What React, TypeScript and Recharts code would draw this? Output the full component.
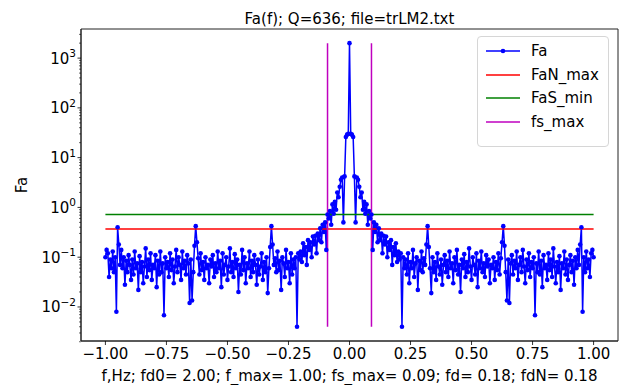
import React from "react";
import { LineChart, Line, XAxis, YAxis, ReferenceArea } from "recharts";

// Frequency resolution of the table (Hz) and the spectrum values.
const STEP = 0.005;
const faCenter = 2000;
// Fa for |f| = 0.005, 0.010, ... 1.000 (spectrum is symmetric about f = 0)
const faHalf = [
  30, 29, 26, 4.2, 0.5, 4.0, 3.6, 2.6, 1.6, 2.0,
  0.9, 1.3, 0.75, 1.15, 0.45, 0.85, 0.6, 0.72, 0.14, 0.5,
  0.32, 0.45, 0.2, 0.38, 0.22, 0.3, 0.12, 0.27, 0.18, 0.26,
  0.1, 0.2, 0.14, 0.22, 0.07, 0.16, 0.11, 0.19, 0.08, 0.13,
  0.09, 0.12, 0.004, 0.1, 0.06,
  0.09, 0.045, 0.12, 0.03, 0.08, 0.06, 0.14, 0.04, 0.075, 0.1,
  0.022, 0.085, 0.055, 0.13, 0.05, 0.095, 0.07,
  0.18, 0.42, 0.16,
  0.06, 0.019, 0.1, 0.05, 0.08, 0.035, 0.12, 0.065, 0.045, 0.09,
  0.028, 0.07, 0.11, 0.05, 0.085, 0.04, 0.13, 0.06, 0.075, 0.03,
  0.1, 0.055, 0.14, 0.045, 0.07, 0.02, 0.09, 0.06, 0.115, 0.04,
  0.08, 0.05, 0.15, 0.065, 0.035, 0.1, 0.07, 0.045, 0.12, 0.025,
  0.085, 0.06, 0.13, 0.05, 0.075, 0.04, 0.11, 0.065, 0.09, 0.03,
  0.07, 0.06, 0.1, 0.035, 0.08, 0.055, 0.12, 0.045, 0.095,
  0.2, 0.42, 0.17,
  0.05, 0.0135, 0.09, 0.012, 0.075, 0.11, 0.045, 0.085, 0.06, 0.13,
  0.035, 0.07, 0.1, 0.05, 0.14, 0.065, 0.03, 0.09, 0.055, 0.12,
  0.04, 0.08, 0.06, 0.1, 0.0068, 0.075, 0.05, 0.13, 0.045, 0.085,
  0.025, 0.11, 0.06, 0.07, 0.035, 0.12, 0.055, 0.09, 0.04, 0.15,
  0.065, 0.03, 0.08, 0.05, 0.105, 0.022, 0.075, 0.06, 0.13, 0.045,
  0.09, 0.035, 0.07, 0.11, 0.05, 0.085, 0.028, 0.1, 0.06, 0.14,
  0.07,
  0.18, 0.4, 0.008,
  0.1, 0.05, 0.13, 0.06, 0.09, 0.04, 0.12, 0.14, 0.1,
];

const faNMax = 0.37;
const faSMin = 0.72;
const fsMax = 0.09;
const fRange = [-1, 1];
const faRange = [0.004, 2000];

const xDomain = [-1.1, 1.1];
const yDomain = [0.00207, 3846];
const xTicks = [-1, -0.75, -0.5, -0.25, 0, 0.25, 0.5, 0.75, 1];
const yMajor = [0.01, 0.1, 1, 10, 100, 1000];
const yMinor = [
  0.002, 0.003, 0.004, 0.005, 0.006, 0.007, 0.008, 0.009,
  0.02, 0.03, 0.04, 0.05, 0.06, 0.07, 0.08, 0.09,
  0.2, 0.3, 0.4, 0.5, 0.6, 0.7, 0.8, 0.9,
  2, 3, 4, 5, 6, 7, 8, 9,
  20, 30, 40, 50, 60, 70, 80, 90,
  200, 300, 400, 500, 600, 700, 800, 900,
  2000, 3000,
];

const titleText = "Fa(f); Q=636; file=trLM2.txt";
const xLabelText = "f,Hz; fd0= 2.00; f_max= 1.00; fs_max= 0.09; fd= 0.18; fdN= 0.18";
const yLabelText = "Fa";

const faData = [
  ...faHalf.map((v, i) => ({ f: -(i + 1) * STEP, y: v })).reverse(),
  { f: 0, y: faCenter },
  ...faHalf.map((v, i) => ({ f: (i + 1) * STEP, y: v })),
];
const redData = fRange.map((f) => ({ f, y: faNMax }));
const greenData = fRange.map((f) => ({ f, y: faSMin }));
const magLeft = faRange.map((y) => ({ f: -fsMax, y }));
const magRight = faRange.map((y) => ({ f: fsMax, y }));

const FONT = "'DejaVu Sans', sans-serif";

const fmtX = (v: number) => v.toFixed(2).replace("-", "\u2212");

const YTick = (props: any) => {
  const { x, y, payload } = props;
  const v = payload.value as number;
  const e = Math.round(Math.log10(v));
  const major = Math.abs(v - Math.pow(10, e)) < 1e-9 * v + 1e-12;
  return (
    <g>
      <line x1={x} x2={x - (major ? 3.5 : 2)} y1={y} y2={y} stroke="#000" strokeWidth={major ? 0.8 : 0.6} />
      {major && (
        <text x={x - 5} y={y} textAnchor="end" fontSize={15} fontFamily={FONT} fill="#000">
          <tspan dy="0.36em">10</tspan>
          <tspan dy="-0.62em" fontSize={10.5}>{e < 0 ? "\u2212" + -e : String(e)}</tspan>
        </text>
      )}
    </g>
  );
};

const legendItems = [
  { name: "Fa", color: "#0000ff", dot: true },
  { name: "FaN_max", color: "#ff0000", dot: false },
  { name: "FaS_min", color: "#008000", dot: false },
  { name: "fs_max", color: "#bf00bf", dot: false },
];

export default function App() {
  return (
    <div style={{ position: "absolute", left: 0, top: 0, width: 620, height: 385, fontFamily: FONT, background: "#fff" }}>
      <LineChart width={620} height={385} margin={{ top: 29, right: 2, left: 0, bottom: 0 }}>
        <XAxis
          dataKey="f"
          type="number"
          domain={xDomain}
          ticks={xTicks}
          interval={0}
          tickFormatter={fmtX}
          allowDataOverflow
          height={44}
          tickSize={4}
          tickMargin={3}
          stroke="#000"
          axisLine={{ stroke: "#222", strokeWidth: 1 }}
          tickLine={{ stroke: "#000", strokeWidth: 0.8 }}
          tick={{ fontSize: 15, fontFamily: FONT, fill: "#000" }}
        />
        <YAxis
          type="number"
          scale="log"
          domain={yDomain}
          allowDataOverflow
          ticks={[...yMajor, ...yMinor]}
          interval={0}
          width={81}
          tickSize={0}
          tickMargin={0}
          tickLine={false}
          axisLine={{ stroke: "#222", strokeWidth: 1 }}
          tick={<YTick />}
        />
        <Line
          data={faData}
          dataKey="y"
          stroke="#0000ff"
          strokeWidth={1.5}
          dot={{ r: 2.3, fill: "#0000ff", stroke: "#0000ff", strokeWidth: 0 }}
          activeDot={false}
          isAnimationActive={false}
        />
        <Line data={redData} dataKey="y" stroke="#ff0000" strokeWidth={1.5} dot={false} activeDot={false} isAnimationActive={false} />
        <Line data={greenData} dataKey="y" stroke="#008000" strokeWidth={1.5} dot={false} activeDot={false} isAnimationActive={false} />
        <Line data={magLeft} dataKey="y" stroke="#bf00bf" strokeWidth={1.5} dot={false} activeDot={false} isAnimationActive={false} />
        <Line data={magRight} dataKey="y" stroke="#bf00bf" strokeWidth={1.5} dot={false} activeDot={false} isAnimationActive={false} />
        <ReferenceArea
          x1={xDomain[0]}
          x2={xDomain[1]}
          y1={yDomain[0]}
          y2={yDomain[1]}
          fill="none"
          fillOpacity={0}
          stroke="#222"
          strokeWidth={1}
          ifOverflow="visible"
        />
      </LineChart>

      <div style={{ position: "absolute", left: 81, width: 537, top: 9, textAlign: "center", fontSize: 15, lineHeight: "20px", color: "#000", whiteSpace: "nowrap" }}>
        {titleText}
      </div>
      <div style={{ position: "absolute", left: 0, width: 699, top: 366, textAlign: "center", fontSize: 15, lineHeight: "20px", color: "#000", whiteSpace: "nowrap" }}>
        {xLabelText}
      </div>
      <div style={{ position: "absolute", left: 2, top: 175, width: 40, height: 20, textAlign: "center", fontSize: 15, lineHeight: "20px", color: "#000", transform: "rotate(-90deg)" }}>
        {yLabelText}
      </div>

      <div style={{ position: "absolute", left: 477, top: 36, width: 132, height: 111, border: "1px solid #d6d6d6", borderRadius: 4, background: "rgba(255,255,255,0.85)", boxSizing: "border-box" }}>
        {legendItems.map((it, i) => (
          <div key={it.name} style={{ position: "absolute", left: 8, top: 4 + i * 23.5, height: 20, display: "flex", alignItems: "center", whiteSpace: "nowrap" }}>
            <svg width={34} height={20} style={{ display: "block" }}>
              <line x1={0} x2={34} y1={10} y2={10} stroke={it.color} strokeWidth={1.5} />
              {it.dot && <circle cx={17} cy={10} r={2.3} fill={it.color} />}
            </svg>
            <span style={{ marginLeft: 11, fontSize: 15, lineHeight: "20px", color: "#000" }}>{it.name}</span>
          </div>
        ))}
      </div>
    </div>
  );
}
